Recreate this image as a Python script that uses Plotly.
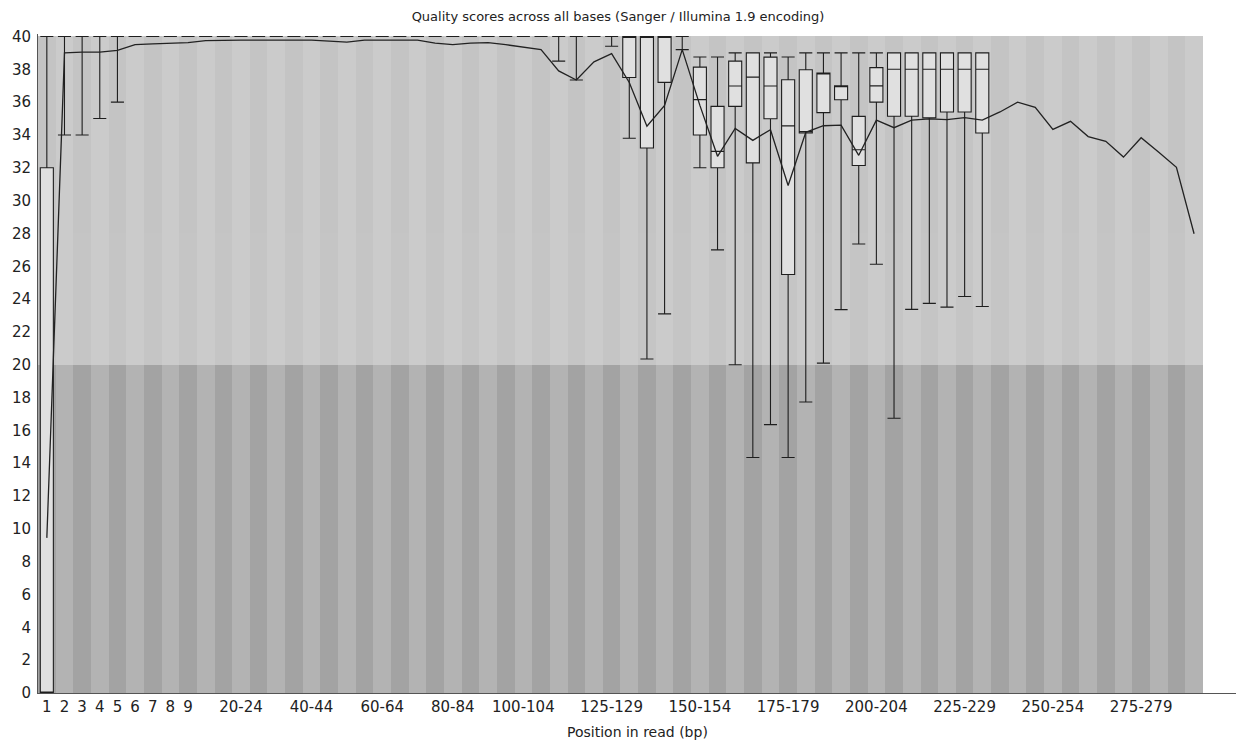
import plotly.graph_objects as go

# ---------------- data ----------------
categories = [
    "1", "2", "3", "4", "5", "6", "7", "8", "9",
    "10-14", "15-19", "20-24", "25-29", "30-34", "35-39", "40-44", "45-49",
    "50-54", "55-59", "60-64", "65-69", "70-74", "75-79", "80-84", "85-89",
    "90-94", "95-99", "100-104", "105-109", "110-114", "115-119", "120-124",
    "125-129", "130-134", "135-139", "140-144", "145-149", "150-154",
    "155-159", "160-164", "165-169", "170-174", "175-179", "180-184",
    "185-189", "190-194", "195-199", "200-204", "205-209", "210-214",
    "215-219", "220-224", "225-229", "230-234", "235-239", "240-244",
    "245-249", "250-254", "255-259", "260-264", "265-269", "270-274",
    "275-279", "280-284", "285-289", "290-294",
]

shown_tick_labels = ["1", "2", "3", "4", "5", "6", "7", "8", "9",
                     "20-24", "40-44", "60-64", "80-84", "100-104", "125-129",
                     "150-154", "175-179", "200-204", "225-229", "250-254",
                     "275-279"]

y_tick_values = [0, 2, 4, 6, 8, 10, 12, 14, 16, 18, 20,
                 22, 24, 26, 28, 30, 32, 34, 36, 38, 40]

# box statistics (first 54 positions have boxes)
p10 = [0, 34, 34, 35, 36, 40, 40, 40, 40, 40,
       40, 40, 40, 40, 40, 40, 40, 40, 40, 40,
       40, 40, 40, 40, 40, 40, 40, 40, 40, 38.5,
       37.35, 40, 39.4, 33.8, 20.35, 23.1, 39.2, 32.0, 27.0, 20.0,
       14.35, 16.35, 14.35, 17.73, 20.1, 23.36, 27.36, 26.12, 16.74, 23.37,
       23.74, 23.51, 24.16, 23.55]
q1 = [0, 40, 40, 40, 40, 40, 40, 40, 40, 40,
      40, 40, 40, 40, 40, 40, 40, 40, 40, 40,
      40, 40, 40, 40, 40, 40, 40, 40, 40, 40,
      40, 40, 40, 37.5, 33.2, 37.2, 40, 34.0, 32.0, 35.74,
      32.3, 34.99, 25.5, 34.12, 35.36, 36.14, 32.14, 36.0, 35.14, 35.14,
      35.04, 35.4, 35.4, 34.12]
median = [0, 40, 40, 40, 40, 40, 40, 40, 40, 40,
          40, 40, 40, 40, 40, 40, 40, 40, 40, 40,
          40, 40, 40, 40, 40, 40, 40, 40, 40, 40,
          40, 40, 40, 40, 40, 40, 40, 36.15, 33.0, 36.98,
          37.52, 36.98, 34.55, 34.2, 37.77, 37.0, 33.1, 36.99, 38.0, 38.0,
          38.0, 38.0, 38.0, 38.0]
q3 = [32, 40, 40, 40, 40, 40, 40, 40, 40, 40,
      40, 40, 40, 40, 40, 40, 40, 40, 40, 40,
      40, 40, 40, 40, 40, 40, 40, 40, 40, 40,
      40, 40, 40, 40, 40, 40, 40, 38.13, 35.74, 38.5,
      39.0, 38.74, 37.36, 37.97, 37.77, 37.0, 35.13, 38.1, 39.0, 39.0,
      39.0, 39.0, 39.0, 39.0]
p90 = [40, 40, 40, 40, 40, 40, 40, 40, 40, 40,
       40, 40, 40, 40, 40, 40, 40, 40, 40, 40,
       40, 40, 40, 40, 40, 40, 40, 40, 40, 40,
       40, 40, 40, 40, 40, 40, 40, 38.75, 38.75, 39.0,
       39.0, 39.0, 38.75, 39.0, 39.0, 39.0, 39.0, 39.0, 39.0, 39.0,
       39.0, 39.0, 39.0, 39.0]

mean_quality = [9.45, 39.0, 39.05, 39.05, 39.15, 39.5, 39.55, 39.6, 39.62, 39.75,
                39.78, 39.78, 39.78, 39.78, 39.78, 39.78, 39.72, 39.66, 39.78, 39.78,
                39.78, 39.78, 39.6, 39.5, 39.6, 39.62, 39.5, 39.35, 39.2, 37.9,
                37.35, 38.45, 38.95, 37.2, 34.53, 35.8, 39.2, 35.8, 32.7, 34.4,
                33.67, 34.32, 30.92, 34.16, 34.56, 34.6, 32.76, 34.9, 34.44, 34.9,
                34.98, 34.93, 35.06, 34.9, 35.4, 36.0, 35.68, 34.34, 34.83, 33.9,
                33.61, 32.65, 33.83, 32.95, 32.03, 27.98]

# quality bands: (lower, upper, light colour, dark colour)
bands = [
    (0, 20, "#b3b3b3", "#a3a3a3"),
    (20, 28, "#cbcbcb", "#c5c5c5"),
    (28, 40, "#cbcbcb", "#c4c4c4"),
]

# ---------------- figure ----------------
n = len(categories)
xpos = list(range(n))
box_x = xpos[:len(q1)]

fig = go.Figure()

for lo, hi, light, dark in bands:
    fig.add_trace(go.Bar(
        x=xpos, y=[hi - lo] * n, base=[lo] * n, width=1,
        marker=dict(color=[light if i % 2 == 1 else dark for i in xpos],
                    line=dict(width=0)),
        showlegend=False, hoverinfo="skip",
    ))

fig.add_trace(go.Box(
    x=box_x, q1=q1, median=median, q3=q3,
    lowerfence=p10, upperfence=p90,
    width=0.74, whiskerwidth=1,
    fillcolor="#e0e0e0", line=dict(color="#1e1e1e", width=1.1),
    showlegend=False, boxpoints=False,
))

fig.add_trace(go.Scatter(
    x=xpos, y=mean_quality, mode="lines",
    line=dict(color="#222222", width=1.3),
    showlegend=False,
))

tickvals = [categories.index(t) for t in shown_tick_labels]

font_family = "DejaVu Sans"
fig.update_layout(
    width=1236, height=746,
    margin=dict(l=38, r=0, t=33.5, b=53, pad=0),
    paper_bgcolor="white", plot_bgcolor="white",
    barmode="overlay", bargap=0,
    font=dict(family=font_family, color="#222222"),
    title=dict(text="Quality scores across all bases (Sanger / Illumina 1.9 encoding)",
               x=0.5, xref="container", xanchor="center",
               y=1 - 16 / 746, yref="container", yanchor="middle",
               font=dict(family=font_family, size=13, color="#222222")),
    xaxis=dict(range=[-0.5, 67.375], showgrid=False, zeroline=False,
               showline=True, linecolor="#555555", linewidth=1,
               tickmode="array", tickvals=tickvals, ticktext=shown_tick_labels,
               ticks="", tickfont=dict(size=15, family=font_family, color="#222222")),
    yaxis=dict(range=[0, 40.15], showgrid=False, zeroline=False,
               showline=True, linecolor="#555555", linewidth=1,
               tickmode="array", tickvals=y_tick_values,
               ticks="", ticklabelstandoff=3,
               tickfont=dict(size=15, family=font_family, color="#222222")),
    annotations=[dict(text="Position in read (bp)", xref="paper", yref="paper",
                      x=0.5, y=-(732 - 693) / 659.5, xanchor="center", yanchor="middle",
                      showarrow=False,
                      font=dict(family=font_family, size=14, color="#222222"))],
)

fig.write_html("out.html")
